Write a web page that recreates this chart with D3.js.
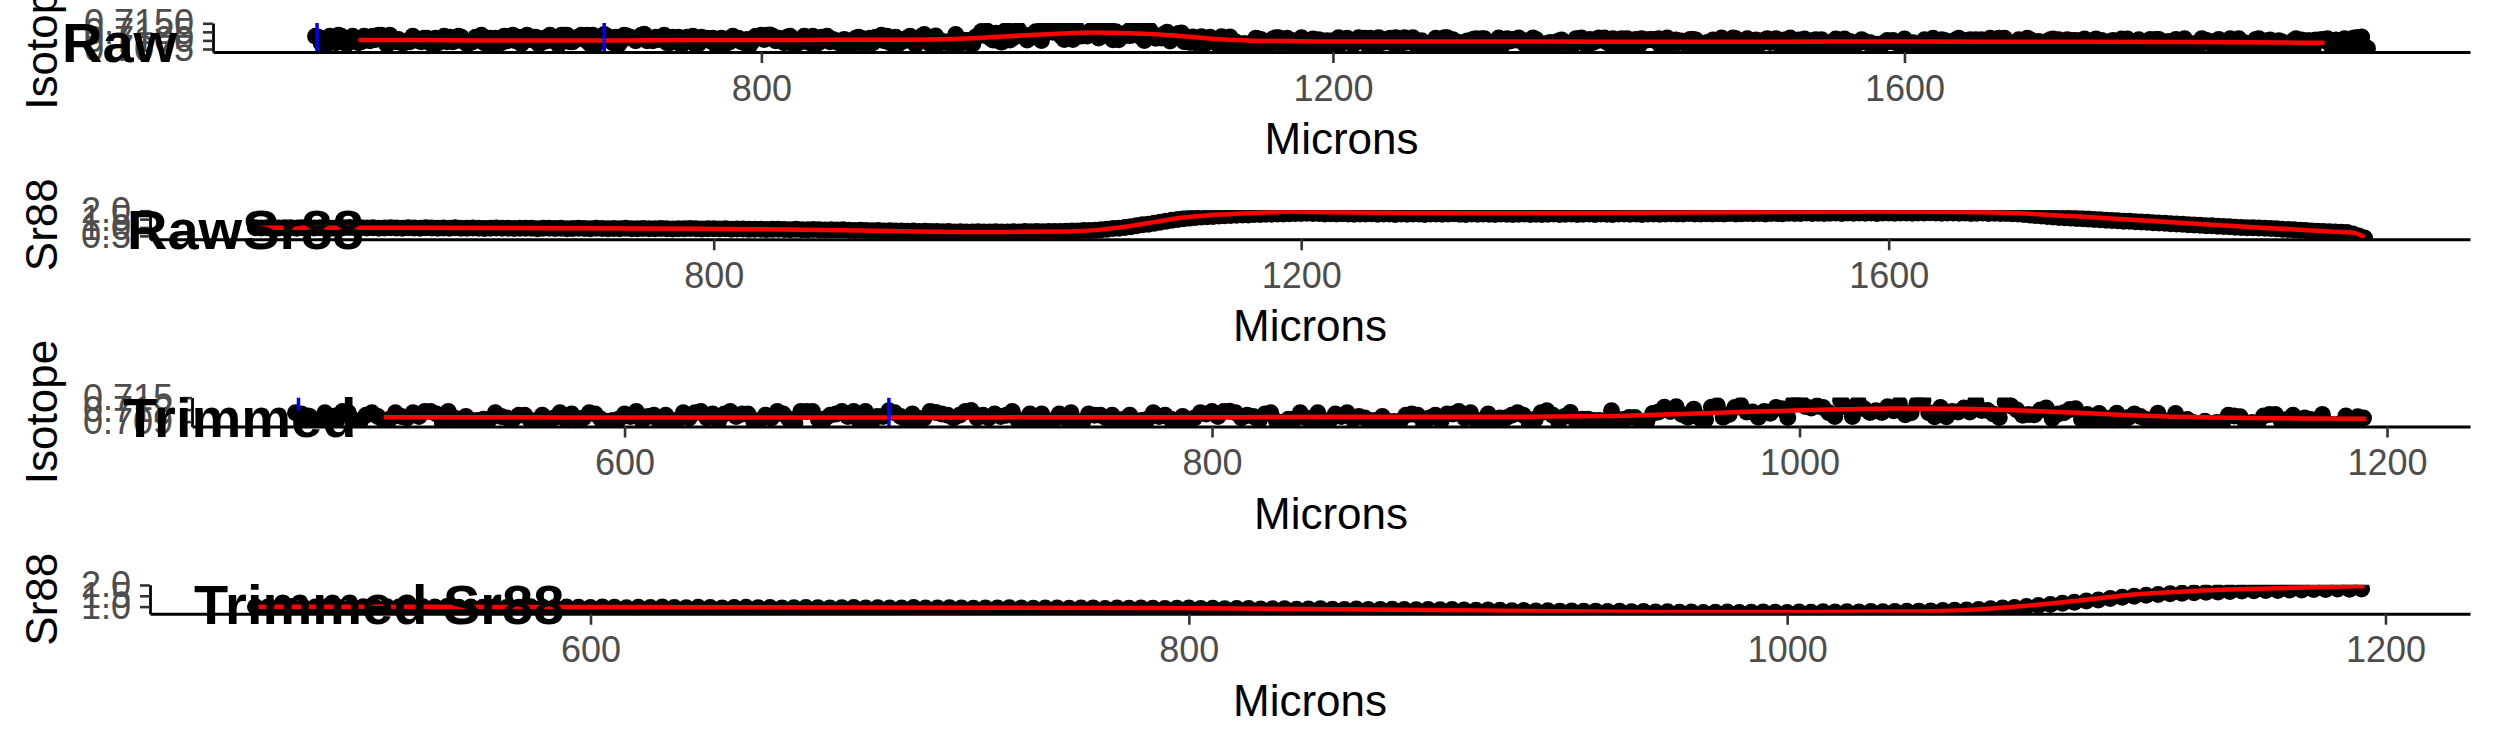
<!DOCTYPE html>
<html><head><meta charset="utf-8">
<script src="https://cdn.jsdelivr.net/npm/d3@7"></script>
<style>
html,body{margin:0;padding:0;background:#fff;}
svg{display:block;}
text{font-family:"Liberation Sans",Arial,Helvetica,sans-serif;}
</style>
</head><body>
<svg id="chart" width="2495" height="749"></svg>
<script>
// ---------------- DATA ----------------
const sampleStart = 488;      // first ablation position (microns)
const isoStep = 2;            // isotope sample spacing (microns)
const srStep = 4;             // Sr88 sample spacing (microns)
const trimLimit = 1193;       // end of trimmed profile (microns)

const panelTitles = ["Raw", "RawSr88", "Trimmed", "Trimmed Sr88"];
const yTitles = ["Isotope", "Sr88", "Isotope", "Sr88"];
const xTitle = "Microns";

const rawXTicks = [800, 1200, 1600];
const trimXTicks = [600, 800, 1000, 1200];
const isoRawYTicks = [0.7075, 0.7100, 0.7125, 0.7150];
const isoTrimYTicks = [0.709, 0.712, 0.715];
const srRawYTicks = [0.5, 1.0, 1.5, 2.0];
const srTrimYTicks = [1.0, 1.5, 2.0];

const markerMicrons = [489, 690];

// 87Sr/86Sr ratio, one value every 2 microns from 488
const isotopeRaw = [
0.7112,0.7109,0.7092,0.7090,0.7090,0.7112,0.7103,0.7093,0.7115,0.7112,0.7093,0.7090,0.7106,0.7112,0.7103,0.7093,0.7096,0.7112,0.7103,0.7099,
0.7112,0.7103,0.7115,0.7115,0.7109,0.7087,0.7115,0.7099,0.7096,0.7103,0.7093,0.7093,0.7096,0.7096,0.7112,0.7103,0.7099,0.7096,0.7106,0.7106,
0.7093,0.7087,0.7106,0.7093,0.7099,0.7112,0.7096,0.7109,0.7096,0.7099,0.7112,0.7109,0.7096,0.7090,0.7093,0.7096,0.7109,0.7103,0.7115,0.7093,
0.7103,0.7106,0.7087,0.7106,0.7093,0.7093,0.7112,0.7099,0.7112,0.7115,0.7099,0.7109,0.7090,0.7109,0.7115,0.7103,0.7109,0.7109,0.7090,0.7093,
0.7106,0.7099,0.7115,0.7109,0.7096,0.7087,0.7115,0.7115,0.7115,0.7096,0.7096,0.7106,0.7109,0.7115,0.7103,0.7115,0.7090,0.7115,0.7087,0.7103,
0.7103,0.7117,0.7112,0.7103,0.7093,0.7109,0.7087,0.7099,0.7115,0.7113,0.7109,0.7106,0.7099,0.7106,0.7115,0.7118,0.7099,0.7106,0.7099,0.7109,
0.7103,0.7106,0.7115,0.7093,0.7093,0.7109,0.7096,0.7109,0.7087,0.7093,0.7109,0.7099,0.7112,0.7087,0.7090,0.7109,0.7106,0.7106,0.7099,0.7106,
0.7087,0.7096,0.7106,0.7087,0.7093,0.7096,0.7112,0.7103,0.7106,0.7096,0.7093,0.7103,0.7087,0.7099,0.7112,0.7109,0.7115,0.7103,0.7115,0.7116,
0.7112,0.7099,0.7106,0.7103,0.7093,0.7109,0.7112,0.7090,0.7087,0.7096,0.7096,0.7112,0.7099,0.7093,0.7112,0.7090,0.7093,0.7109,0.7103,0.7112,
0.7096,0.7103,0.7099,0.7093,0.7093,0.7103,0.7090,0.7090,0.7090,0.7106,0.7109,0.7106,0.7087,0.7099,0.7106,0.7093,0.7109,0.7109,0.7115,0.7099,
0.7112,0.7093,0.7093,0.7109,0.7090,0.7099,0.7099,0.7106,0.7112,0.7106,0.7087,0.7096,0.7112,0.7117,0.7106,0.7090,0.7103,0.7113,0.7090,0.7096,
0.7096,0.7093,0.7093,0.7087,0.7117,0.7088,0.7095,0.7100,0.7100,0.7090,0.7090,0.7110,0.7114,0.7126,0.7115,0.7127,0.7108,0.7101,0.7121,0.7099,
0.7095,0.7126,0.7130,0.7101,0.7108,0.7125,0.7131,0.7114,0.7114,0.7101,0.7115,0.7111,0.7125,0.7122,0.7100,0.7140,0.7147,0.7128,0.7124,0.7129,
0.7125,0.7112,0.7103,0.7143,0.7126,0.7103,0.7139,0.7122,0.7113,0.7117,0.7113,0.7127,0.7117,0.7135,0.7107,0.7112,0.7135,0.7143,0.7112,0.7102,
0.7125,0.7102,0.7115,0.7114,0.7124,0.7114,0.7141,0.7118,0.7118,0.7109,0.7100,0.7139,0.7129,0.7119,0.7106,0.7108,0.7107,0.7119,0.7124,0.7098,
0.7109,0.7112,0.7120,0.7122,0.7096,0.7108,0.7094,0.7110,0.7093,0.7099,0.7111,0.7088,0.7100,0.7109,0.7103,0.7095,0.7086,0.7111,0.7092,0.7088,
0.7110,0.7094,0.7095,0.7088,0.7084,0.7091,0.7084,0.7088,0.7088,0.7106,0.7104,0.7102,0.7081,0.7088,0.7084,0.7104,0.7108,0.7108,0.7091,0.7095,
0.7106,0.7091,0.7099,0.7095,0.7088,0.7108,0.7084,0.7082,0.7084,0.7104,0.7082,0.7102,0.7099,0.7091,0.7099,0.7088,0.7099,0.7091,0.7108,0.7091,
0.7102,0.7106,0.7095,0.7088,0.7095,0.7108,0.7102,0.7106,0.7088,0.7106,0.7088,0.7080,0.7108,0.7104,0.7095,0.7099,0.7106,0.7091,0.7108,0.7084,
0.7099,0.7108,0.7095,0.7099,0.7108,0.7088,0.7091,0.7099,0.7080,0.7084,0.7091,0.7080,0.7106,0.7084,0.7084,0.7108,0.7108,0.7080,0.7102,0.7084,
0.7094,0.7083,0.7094,0.7098,0.7087,0.7103,0.7105,0.7090,0.7105,0.7105,0.7083,0.7090,0.7079,0.7094,0.7107,0.7083,0.7103,0.7105,0.7098,0.7103,
0.7101,0.7107,0.7101,0.7090,0.7098,0.7079,0.7107,0.7103,0.7090,0.7079,0.7090,0.7087,0.7094,0.7083,0.7094,0.7098,0.7101,0.7094,0.7083,0.7079,
0.7087,0.7105,0.7105,0.7107,0.7094,0.7083,0.7103,0.7094,0.7098,0.7107,0.7101,0.7107,0.7094,0.7090,0.7105,0.7094,0.7087,0.7105,0.7090,0.7105,
0.7090,0.7094,0.7103,0.7083,0.7105,0.7101,0.7101,0.7103,0.7103,0.7098,0.7105,0.7079,0.7090,0.7107,0.7083,0.7087,0.7101,0.7094,0.7098,0.7094,
0.7087,0.7103,0.7103,0.7101,0.7083,0.7083,0.7087,0.7094,0.7079,0.7101,0.7083,0.7079,0.7107,0.7101,0.7079,0.7101,0.7107,0.7105,0.7083,0.7079,
0.7094,0.7105,0.7098,0.7087,0.7101,0.7087,0.7094,0.7101,0.7105,0.7094,0.7098,0.7105,0.7101,0.7079,0.7101,0.7079,0.7107,0.7083,0.7087,0.7101,
0.7090,0.7104,0.7093,0.7093,0.7100,0.7102,0.7078,0.7102,0.7089,0.7093,0.7093,0.7082,0.7104,0.7082,0.7100,0.7104,0.7082,0.7097,0.7078,0.7089,
0.7093,0.7102,0.7097,0.7093,0.7093,0.7086,0.7089,0.7089,0.7086,0.7093,0.7100,0.7097,0.7100,0.7093,0.7093,0.7093,0.7104,0.7086,0.7086,0.7093,
0.7082,0.7089,0.7089,0.7102,0.7089,0.7082,0.7106,0.7078,0.7089,0.7102,0.7100,0.7097,0.7078,0.7089,0.7102,0.7106,0.7086,0.7078,0.7100,0.7102,
0.7078,0.7102,0.7086,0.7102,0.7093,0.7093,0.7106,0.7093,0.7082,0.7106,0.7093,0.7106,0.7082,0.7086,0.7086,0.7078,0.7102,0.7100,0.7089,0.7106,
0.7102,0.7097,0.7086,0.7097,0.7093,0.7082,0.7097,0.7102,0.7104,0.7078,0.7102,0.7086,0.7070,0.7102,0.7078,0.7100,0.7100,0.7082,0.7100,0.7104,
0.7078,0.7089,0.7100,0.7104,0.7089,0.7100,0.7082,0.7078,0.7097,0.7100,0.7097,0.7086,0.7104,0.7100,0.7104,0.7082,0.7082,0.7089,0.7102,0.7089,
0.7093,0.7081,0.7103,0.7088,0.7103,0.7103,0.7081,0.7092,0.7096,0.7096,0.7085,0.7103,0.7077,0.7088,0.7105,0.7077,0.7085,0.7090,0.7077,0.7084,
0.7105,0.7101,0.7099,0.7096,0.7085,0.7085,0.7103,0.7077,0.7085,0.7092,0.7105,0.7092,0.7085,0.7105,0.7096,0.7088,0.7092,0.7088,0.7077,0.7103,
0.7105,0.7085,0.7081,0.7099,0.7101,0.7096,0.7081,0.7099,0.7096,0.7077,0.7088,0.7085,0.7099,0.7105,0.7092,0.7101,0.7088,0.7099,0.7099,0.7077,
0.7101,0.7099,0.7103,0.7101,0.7105,0.7088,0.7085,0.7101,0.7096,0.7081,0.7105,0.7081,0.7077,0.7106,0.7108,0.7108,0.7110,0.7077,0.7077
];

// Sr88 signal, one value every 4 microns from 488
const sr88Raw = [
0.99,0.97,0.98,1.00,0.97,0.98,0.99,0.96,0.98,0.99,
0.97,0.99,0.98,0.96,0.99,0.98,1.00,0.97,0.98,0.97,
0.98,0.96,0.97,0.99,0.97,0.96,0.98,0.97,
0.96,0.98,0.97,0.95,0.97,0.96,0.98,0.96,0.95,0.97,
0.96,0.94,0.96,0.97,0.95,0.96,0.94,0.95,0.96,0.95,
0.93,0.95,0.96,0.94,0.95,0.93,0.94,0.96,0.94,0.93,
0.95,0.94,0.92,0.94,0.93,0.95,0.93,0.92,0.94,0.93,
0.92,0.94,0.93,0.91,0.93,0.92,0.94,0.92,0.91,0.92,
0.93,0.91,0.92,0.90,0.91,0.91,0.89,0.90,0.90,0.88,
0.89,0.90,0.88,0.87,0.89,0.87,0.86,0.88,0.86,0.85,
0.86,0.85,0.86,0.84,0.83,
0.84,0.83,0.81,0.82,0.80,0.81,0.79,
0.80,0.78,0.79,0.77,0.78,0.76,0.77,0.75,0.76,0.74,
0.75,0.73,0.74,0.75,0.73,0.74,0.75,0.74,0.73,0.75,
0.74,0.76,0.75,0.76,0.75,0.77,0.76,0.77,0.78,
0.79,0.80,0.82,0.83,0.84,
0.87,0.90,0.94,0.96,1.00,
1.05,1.10,1.16,1.20,1.26,
1.31,1.37,1.43,1.48,
1.52,1.56,1.59,1.62,1.64,1.66,
1.68,1.70,1.72,1.73,1.75,1.75,1.77,
1.77,1.79,1.79,1.81,1.80,1.82,1.84,1.83,1.85,1.84,
1.83,1.81,1.82,1.80,1.82,1.81,1.79,1.81,1.80,1.82,
1.79,1.81,1.80,1.78,1.80,1.79,1.81,1.80,1.78,1.80,
1.81,1.79,1.80,1.82,1.79,1.78,1.80,1.79,1.81,1.79,
1.78,1.80,1.79,1.77,1.79,1.80,1.78,1.79,1.77,1.79,
1.80,1.78,1.79,1.81,1.78,1.79,1.80,1.78,1.80,1.79,
1.78,1.80,1.81,1.79,1.80,1.78,1.80,1.81,1.79,1.80,
1.82,1.80,1.81,1.83,1.80,1.81,1.82,1.80,1.82,1.81,
1.83,1.81,1.82,1.84,1.82,1.83,1.81,1.83,1.84,1.82,
1.85,1.83,1.84,1.86,1.84,1.85,1.83,1.85,1.86,1.84,
1.86,1.85,1.87,1.85,1.86,1.84,1.86,1.87,
1.85,1.87,1.86,1.85,1.87,1.86,1.88,1.86,1.85,1.87,
1.86,1.85,1.86,1.84,1.85,1.86,1.84,1.85,1.83,1.84,
1.82,1.80,1.77,1.74,1.71,1.68,1.65,1.62,1.60,1.58,1.56,
1.54,1.52,1.50,1.48,1.46,1.44,1.42,1.40,1.38,1.37,1.35,1.33,1.31,1.29,1.27,1.25,
1.23,1.21,1.19,1.17,1.15,1.13,1.11,1.10,1.08,1.06,1.04,1.02,1.00,0.99,0.98,0.97,
0.96,0.94,0.92,0.90,0.88,0.86,0.84,0.82,0.80,0.78,0.76,0.75,0.73,0.72,0.70,
0.62,0.50,0.38
];

// smoothed (red) profiles
const isoSmoothX = [518,560,600,650,700,750,800,850,900,935,960,985,1010,1032,1055,1075,1095,1115,1140,1170,1193,1220,1300,1400,1500,1600,1700,1800,1860,1894];
const isoSmoothY = [0.7101,0.7101,0.7100,0.7100,0.7100,0.7101,0.7101,0.7102,0.7102,0.7104,0.7109,0.7115,0.7120,0.7123,0.7122,0.7118,0.7112,0.7105,0.7100,0.7098,0.7097,0.7097,0.7097,0.7096,0.7096,0.7097,0.7096,0.7095,0.7094,0.7093];

const srSmoothX = [488,550,600,700,791,850,900,964,1000,1040,1062,1080,1100,1118,1138,1160,1180,1193,1207,1250,1333,1400,1500,1595,1638,1680,1724,1790,1854,1900,1915,1920,1924];
const srSmoothY = [0.99,0.99,0.98,0.96,0.93,0.88,0.82,0.74,0.74,0.77,0.86,1.04,1.32,1.58,1.74,1.84,1.91,1.95,1.93,1.88,1.85,1.87,1.91,1.95,1.94,1.88,1.68,1.33,0.99,0.77,0.70,0.60,0.42];

// ---------------- LAYOUT ----------------
const W = 2495, H = 749, PH = H / 4;
const plotTop = 23, plotBot = 52, xRight = 2470;
const layout = [
  {axisX: 213, titleX: 62},
  {axisX: 150, titleX: 127},
  {axisX: 192, titleX: 123},
  {axisX: 150, titleX: 194}
];
const FONT = '"Liberation Sans",Arial,Helvetica,sans-serif';

const toPts = (xs, ys) => ys.map((v, i) => ({x: xs[i], y: v}));
const microns = (d, step) => d3.range(d.length).map(i => sampleStart + i * step);
const isoPts = toPts(microns(isotopeRaw, isoStep), isotopeRaw);
const srPts = toPts(microns(sr88Raw, srStep), sr88Raw);
const isoLine = toPts(isoSmoothX, isoSmoothY);
const srLine = toPts(srSmoothX, srSmoothY);
const trim = arr => arr.filter(d => d.x <= trimLimit);

const panels = [
  {pts: isoPts, line: isoLine, xTicks: rawXTicks, yTicks: isoRawYTicks, fmt: d3.format(".4f"), markers: true},
  {pts: srPts, line: srLine, xTicks: rawXTicks, yTicks: srRawYTicks, fmt: d3.format(".1f"), markers: false},
  {pts: trim(isoPts), line: trim(isoLine), xTicks: trimXTicks, yTicks: isoTrimYTicks, fmt: d3.format(".3f"), markers: true},
  {pts: trim(srPts), line: trim(srLine), xTicks: trimXTicks, yTicks: srTrimYTicks, fmt: d3.format(".1f"), markers: false}
];

const expand = ([a, b]) => { const r = b - a; return [a - 0.05 * r, b + 0.05 * r]; };

const svg = d3.select("#chart");
svg.append("rect").attr("width", W).attr("height", H).attr("fill", "#fff");
const defs = svg.append("defs");

panels.forEach((p, i) => {
  const L = layout[i];
  const g = svg.append("g").attr("transform", `translate(0,${i * PH})`);
  const all = p.pts.concat(p.line);
  const x = d3.scaleLinear().domain(expand(d3.extent(all, d => d.x))).range([L.axisX, xRight]);
  const y = d3.scaleLinear().domain(expand(d3.extent(all, d => d.y))).range([plotBot, plotTop]);

  g.append("text")
    .attr("transform", `translate(57,${(plotTop + plotBot) / 2}) rotate(-90)`)
    .attr("text-anchor", "middle").attr("font-size", 44).attr("fill", "#000")
    .text(yTitles[i]);
  g.append("text")
    .attr("x", (L.axisX + xRight) / 2).attr("y", plotBot + 102)
    .attr("text-anchor", "middle").attr("font-size", 44).attr("fill", "#000")
    .text(xTitle);

  const cid = "clip" + i;
  defs.append("clipPath").attr("id", cid).append("rect")
    .attr("x", L.axisX).attr("y", i * PH + plotTop)
    .attr("width", xRight - L.axisX).attr("height", plotBot - plotTop);
  const outer = svg.append("g").attr("clip-path", `url(#${cid})`);
  const inner = outer.append("g").attr("transform", `translate(0,${i * PH})`);

  inner.append("g").selectAll("circle").data(p.pts).join("circle")
    .attr("cx", d => x(d.x)).attr("cy", d => y(d.y)).attr("r", 8.5).attr("fill", "#000");

  inner.append("path").datum(p.line)
    .attr("fill", "none").attr("stroke", "#FF0000").attr("stroke-width", 4.5)
    .attr("stroke-linejoin", "round")
    .attr("d", d3.line().x(d => x(d.x)).y(d => y(d.y)).curve(d3.curveMonotoneX));

  if (p.markers) {
    inner.selectAll("line.marker").data(markerMicrons).join("line")
      .attr("class", "marker")
      .attr("x1", d => x(d)).attr("x2", d => x(d))
      .attr("y1", plotTop).attr("y2", plotBot)
      .attr("stroke", "#0000FF").attr("stroke-width", 3.5);
  }

  const ag = svg.append("g").attr("transform", `translate(0,${i * PH})`);
  const xa = ag.append("g").attr("transform", `translate(0,${plotBot})`)
    .call(d3.axisBottom(x).tickValues(p.xTicks).tickFormat(d3.format("d")).tickSize(11).tickSizeOuter(0).tickPadding(12));
  const ya = ag.append("g").attr("transform", `translate(${L.axisX},0)`)
    .call(d3.axisLeft(y).tickValues(p.yTicks).tickFormat(p.fmt).tickSize(10).tickSizeOuter(0).tickPadding(9));
  [xa, ya].forEach(a => {
    a.attr("font-family", FONT).attr("font-size", 36);
    a.select(".domain").attr("stroke", "#000").attr("stroke-width", 2.8);
    a.selectAll(".tick line").attr("stroke", "#333333").attr("stroke-width", 2.6);
    a.selectAll(".tick text").attr("fill", "#4D4D4D");
  });

  ag.append("text")
    .attr("x", L.titleX).attr("y", 62)
    .attr("font-size", 56).attr("font-weight", "bold").attr("fill", "#000")
    .text(panelTitles[i]);
});
</script>
</body></html>
